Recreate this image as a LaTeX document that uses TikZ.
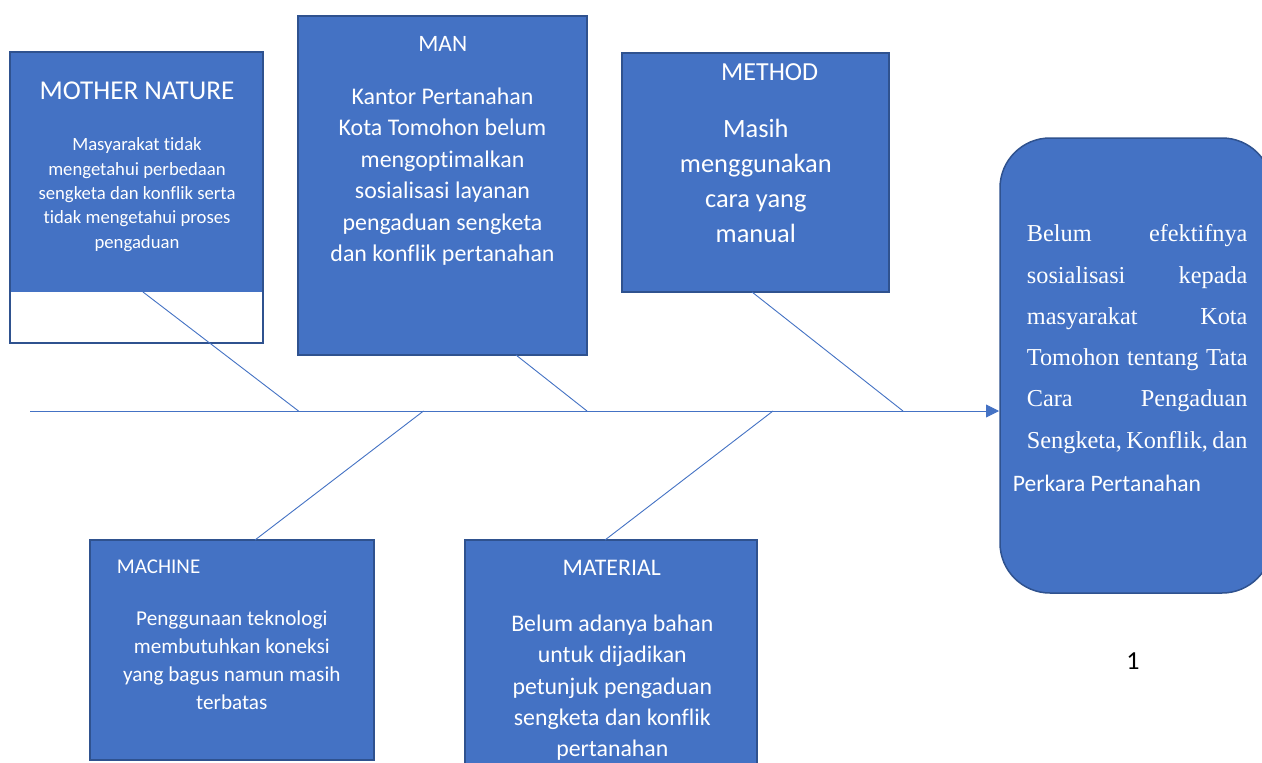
\documentclass[tikz,border=0pt]{standalone}
\usepackage{fontspec}
\setmainfont{Carlito}[Ligatures=NoCommon]
\newfontfamily\timesfont{Liberation Serif}
\usepackage{tikz}
\usetikzlibrary{arrows.meta,calc}

\definecolor{boxfill}{HTML}{4472C4}
\definecolor{boxline}{HTML}{2F528F}

\tikzset{
  box/.style={draw=boxline, fill=boxfill, line width=1.5pt, inner sep=0pt},
  ttl/.style={text=white, inner sep=0pt, anchor=base},
  txt/.style={text=white, inner sep=0pt, align=center, anchor=base},
  bone/.style={draw=boxfill, line width=0.9pt}
}

\begin{document}
\begin{tikzpicture}[x=1pt,y=-1pt]
	\clip (0,0) rectangle (1262,763);
	\fill[white] (0,0) rectangle (1262,763);

	% boxes
	\node[box, fill=white, minimum width=253, minimum height=291] (nature) at (136.5,197.5) {};
	\fill[boxfill] (10.8,52.8) rectangle (262.2,292);
	\node[box, minimum width=289, minimum height=339] (man) at (442.5,185.5) {};
	\node[box, minimum width=267, minimum height=239] (method) at (755.5,172.5) {};
	\node[box, minimum width=284, minimum height=220] (machine) at (232,650) {};
	\node[box, minimum width=292, minimum height=240] (material) at (611,660) {};
	\node[box, rounded corners=50pt, minimum width=272, minimum height=455] (effect) at (1136,365.5) {};

	% texts (multi-line nodes sit on their last baseline)
	\node[ttl, font=\fontsize{27.2}{31}\selectfont] (natureT) at (137,99.3) {MOTHER NATURE};
	\node[txt, font=\fontsize{18.7}{24.3}\selectfont] (natureB) at (137,248) {Masyarakat tidak\\mengetahui perbedaan\\sengketa dan konflik serta\\tidak mengetahui proses\\pengaduan};

	\node[ttl, font=\fontsize{23.5}{28}\selectfont] (manT) at (442.8,51.7) {MAN};
	\node[txt, font=\fontsize{23.9}{31.5}\selectfont] (manB) at (442.5,261.7) {Kantor Pertanahan\\Kota Tomohon belum\\mengoptimalkan\\sosialisasi layanan\\pengaduan sengketa\\dan konflik pertanahan};

	\node[ttl, font=\fontsize{26}{30}\selectfont] (methodT) at (769.7,80.7) {METHOD};
	\node[txt, font=\fontsize{26.4}{35.1}\selectfont] (methodB) at (755.8,242.7) {Masih\\menggunakan\\cara yang\\manual};

	\node[ttl, anchor=base west, font=\fontsize{21}{25}\selectfont] (machineT) at (116.7,573.3) {MACHINE};
	\node[txt, font=\fontsize{21.2}{28.1}\selectfont] (machineB) at (231.8,709.3) {Penggunaan teknologi\\membutuhkan koneksi\\yang bagus namun masih\\terbatas};

	\node[ttl, font=\fontsize{23.8}{28}\selectfont] (materialT) at (611.7,575) {MATERIAL};
	\node[txt, font=\fontsize{23.8}{31.25}\selectfont] (materialB) at (612.3,756.7) {Belum adanya bahan\\untuk dijadikan\\petunjuk pengaduan\\sengketa dan konflik\\pertanahan};

	\node[text=white, inner sep=0pt, anchor=base west, text width=220.6, align=left, font=\timesfont\fontsize{24.3}{41.3}\selectfont] (effectB) at (1026.7,241.7) {Belum\hfill efektifnya\\sosialisasi\hfill kepada\\masyarakat\hfill Kota\\Tomohon\hfill tentang\hfill Tata\\Cara\hfill Pengaduan\\Sengketa,\hfill Konflik,\hfill dan};
	\node[ttl, anchor=base west, font=\fontsize{23.6}{28}\selectfont] (effectC) at (1012.7,491) {Perkara Pertanahan};

	\node[inner sep=0pt, anchor=base, font=\fontsize{26}{30}\selectfont] (page) at (1133,669.3) {1};

	% bones
	\coordinate (tail) at (30,411);
	\coordinate (head) at (999,411);
	\coordinate (natureJ) at (298.5,411);
	\coordinate (manJ) at (587,411);
	\coordinate (methodJ) at (903,411);
	\coordinate (machineJ) at (423.5,411);
	\coordinate (materialJ) at (773,411);
	\coordinate (natureF) at (143,292);
	\coordinate (manF) at (516,355);
	\coordinate (methodF) at (752,292);
	\coordinate (machineF) at (255,540);
	\coordinate (materialF) at (605,540);

	\draw[bone] (natureF) -- (natureJ);
	\draw[bone] (manF) -- (manJ);
	\draw[bone] (methodF) -- (methodJ);
	\draw[bone] (machineJ) -- (machineF);
	\draw[bone] (materialJ) -- (materialF);
	\draw[bone, -{Triangle[length=13pt,width=13pt]}] (tail) -- (head);
\end{tikzpicture}
\end{document}
